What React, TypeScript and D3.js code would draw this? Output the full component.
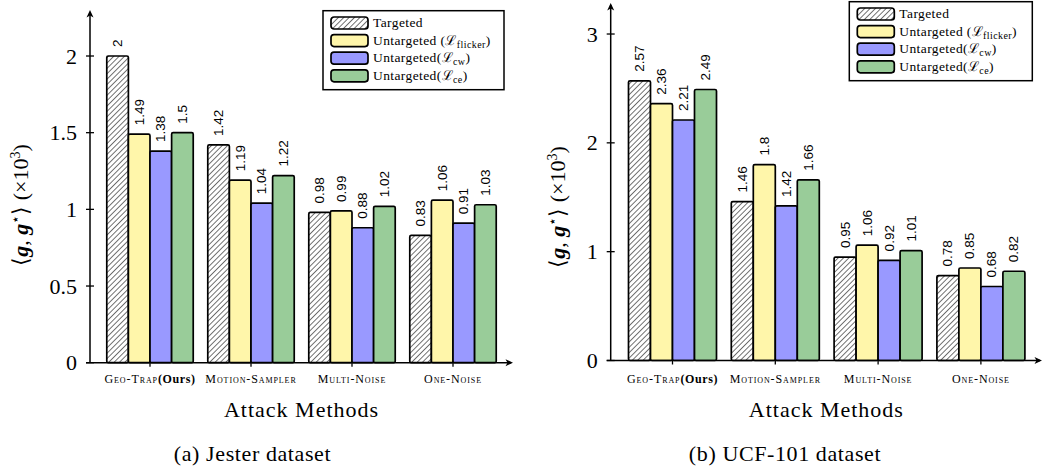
import React from 'react';
import * as d3 from 'd3';

const categories = ['Geo-Trap', 'Motion-Sampler', 'Multi-Noise', 'One-Noise'];
const oursSuffix = '(Ours)';
const seriesKeys = ['targeted', 'flicker', 'cw', 'ce'];
const seriesFills = ['url(#hatch)', '#fff6aa', '#9999ff', '#99cc99'];
const legendMain = ['Targeted', 'Untargeted (', 'Untargeted(', 'Untargeted('];
const legendSub = ['', 'flicker', 'cw', 'ce'];

const jesterTargeted = [2, 1.42, 0.98, 0.83];
const jesterFlicker = [1.49, 1.19, 0.99, 1.06];
const jesterCw = [1.38, 1.04, 0.88, 0.91];
const jesterCe = [1.5, 1.22, 1.02, 1.03];
const jesterTicks = [0, 0.5, 1, 1.5, 2];

const ucfTargeted = [2.57, 1.46, 0.95, 0.78];
const ucfFlicker = [2.36, 1.8, 1.06, 0.85];
const ucfCw = [2.21, 1.42, 0.92, 0.68];
const ucfCe = [2.49, 1.66, 1.01, 0.82];
const ucfTicks = [0, 1, 2, 3];

const SERIF = 'Liberation Serif';
const SANS = 'Liberation Sans';
const serif = (size: number, extra: React.CSSProperties = {}): React.CSSProperties => ({ fontFamily: SERIF, fontSize: size, ...extra });

type PanelProps = {
  series: number[][];
  ticks: number[];
  yMax: number;
  axisX: number;
  yZero: number;
  yTop: number;
  xEnd: number;
  firstCenter: number;
  step: number;
  legendX: number;
  legendY: number;
  legendW: number;
  ylabelX: number;
  ylabelY: number;
  caption: string;
  captionX: number;
  catY: number;
};

function Panel(p: PanelProps) {
  const y = d3.scaleLinear().domain([0, p.yMax]).range([p.yZero, p.yTop]);
  const x = d3
    .scaleBand<string>()
    .domain(categories)
    .range([p.firstCenter - p.step / 2, p.firstCenter + p.step * (categories.length - 0.5)])
    .padding(0);
  const bw = x.bandwidth();
  const sub = d3
    .scaleBand<string>()
    .domain(seriesKeys)
    .range([bw * 0.072, bw * 0.928])
    .padding(0);
  const titleX = (p.axisX + p.xEnd) / 2;
  return (
    <g>
      {categories.map((c) => {
        const cx = (x(c) as number) + bw / 2;
        return <line key={'xt' + c} x1={cx} x2={cx} y1={p.yZero - 4} y2={p.yZero + 4} stroke="#000" strokeWidth={1.3} />;
      })}
      {categories.map((c, ci) => (
        <g key={'g' + c} transform={`translate(${x(c)},0)`}>
          {seriesKeys.map((k, si) => {
            const v = p.series[si][ci];
            const bx = sub(k) as number;
            const top = y(v);
            return (
              <g key={k}>
                <rect x={bx} y={top} width={sub.bandwidth()} height={p.yZero - top} fill={seriesFills[si]} stroke="#000" strokeWidth={1.7} rx={1.5} />
                <text
                  transform={`translate(${bx + sub.bandwidth() / 2},${top - 9}) rotate(-90)`}
                  style={{ fontFamily: SANS, fontSize: 13.5 }}
                  dominantBaseline="central"
                  textAnchor="start"
                  fill="#000"
                >
                  {String(v)}
                </text>
              </g>
            );
          })}
        </g>
      ))}
      <line x1={p.axisX} x2={p.axisX} y1={p.yZero} y2={p.yTop + 2} stroke="#000" strokeWidth={1.5} />
      <path d={`M${p.axisX},${p.yTop} L${p.axisX - 3.5},${p.yTop + 7.5} L${p.axisX},${p.yTop + 5.5} L${p.axisX + 3.5},${p.yTop + 7.5} Z`} fill="#000" />
      {p.ticks.map((t) => (
        <g key={'yt' + t}>
          <line x1={p.axisX - 4} x2={p.axisX + 4} y1={y(t)} y2={y(t)} stroke="#000" strokeWidth={1.3} />
          <text x={p.axisX - 13} y={y(t)} textAnchor="end" dominantBaseline="central" style={serif(22)}>
            {String(t)}
          </text>
        </g>
      ))}
      <line x1={p.axisX - 4} x2={p.xEnd - 2} y1={p.yZero} y2={p.yZero} stroke="#000" strokeWidth={1.5} />
      <path d={`M${p.xEnd},${p.yZero} L${p.xEnd - 7.5},${p.yZero - 3.5} L${p.xEnd - 5.5},${p.yZero} L${p.xEnd - 7.5},${p.yZero + 3.5} Z`} fill="#000" />
      {categories.map((c, ci) => (
        <text key={'cl' + c} x={(x(c) as number) + bw / 2} y={p.catY} textAnchor="middle" style={serif(12, { letterSpacing: 0.9 })}>
          <tspan style={{ fontVariant: 'small-caps' }}>{c}</tspan>
          {ci === 0 ? <tspan style={{ fontWeight: 'bold', letterSpacing: 0.6 }}>{oursSuffix}</tspan> : null}
        </text>
      ))}
      <text x={titleX} y={p.catY + 34} textAnchor="middle" style={serif(22, { letterSpacing: 1 })}>
        Attack Methods
      </text>
      <text x={p.captionX} y={460.5} textAnchor="middle" style={serif(22, { letterSpacing: 0.6 })}>
        {p.caption}
      </text>
      <text transform={`translate(${p.ylabelX},${p.ylabelY}) rotate(-90)`} textAnchor="middle" style={serif(22)}>
        <tspan>⟨</tspan>
        <tspan style={{ fontWeight: 'bold', fontStyle: 'italic' }}>g</tspan>
        <tspan>, </tspan>
        <tspan style={{ fontWeight: 'bold', fontStyle: 'italic' }}>g</tspan>
        <tspan dy={-8} style={{ fontSize: 14 }}>⋆</tspan>
        <tspan dy={8}>⟩ (×10</tspan>
        <tspan dy={-8} style={{ fontSize: 14 }}>3</tspan>
        <tspan dy={8}>)</tspan>
      </text>
      <g transform={`translate(${p.legendX},${p.legendY})`}>
        <rect x={0} y={0} width={p.legendW} height={79} fill="#fff" stroke="#000" strokeWidth={1.5} />
        {seriesKeys.map((k, i) => {
          const ry = 12.3 + i * 17.6;
          return (
            <g key={'lg' + k}>
              <rect x={8} y={ry - 6} width={37} height={12} rx={3} fill={seriesFills[i]} stroke="#000" strokeWidth={1.7} />
              <text x={50} y={ry + 4} style={serif(13.5, { letterSpacing: 0.4 })}>
                <tspan>{legendMain[i]}</tspan>
                {legendSub[i] ? (
                  <>
                    <tspan>ℒ</tspan>
                    <tspan dy={3} style={{ fontSize: 10 }}>{legendSub[i]}</tspan>
                    <tspan dy={-3}>)</tspan>
                  </>
                ) : null}
              </text>
            </g>
          );
        })}
      </g>
    </g>
  );
}

export default function App() {
  return (
    <svg width={1046} height={468} style={{ position: 'absolute', left: 0, top: 0, background: '#fff' }}>
      <defs>
        <pattern id="hatch" patternUnits="userSpaceOnUse" width={3.8} height={3.8} patternTransform="rotate(45)">
          <rect x={0} y={0} width={3.8} height={3.8} fill="#fff" />
          <line x1={0} y1={0} x2={0} y2={3.8} stroke="#000" strokeWidth={1.1} />
        </pattern>
      </defs>
      <rect x={0} y={0} width={1046} height={468} fill="#fff" />
      <Panel
        series={[jesterTargeted, jesterFlicker, jesterCw, jesterCe]}
        ticks={jesterTicks}
        yMax={2.3}
        axisX={90}
        yZero={362.7}
        yTop={10}
        xEnd={513}
        firstCenter={150}
        step={101}
        legendX={323}
        legendY={10.7}
        legendW={181}
        ylabelX={28}
        ylabelY={205}
        caption="(a) Jester dataset"
        captionX={252.5}
        catY={383}
      />
      <Panel
        series={[ucfTargeted, ucfFlicker, ucfCw, ucfCe]}
        ticks={ucfTicks}
        yMax={3.285}
        axisX={610.7}
        yZero={360.5}
        yTop={3}
        xEnd={1042}
        firstCenter={672.5}
        step={102.8}
        legendX={849.3}
        legendY={1.7}
        legendW={183}
        ylabelX={565}
        ylabelY={207}
        caption="(b) UCF-101 dataset"
        captionX={785}
        catY={382.5}
      />
    </svg>
  );
}
